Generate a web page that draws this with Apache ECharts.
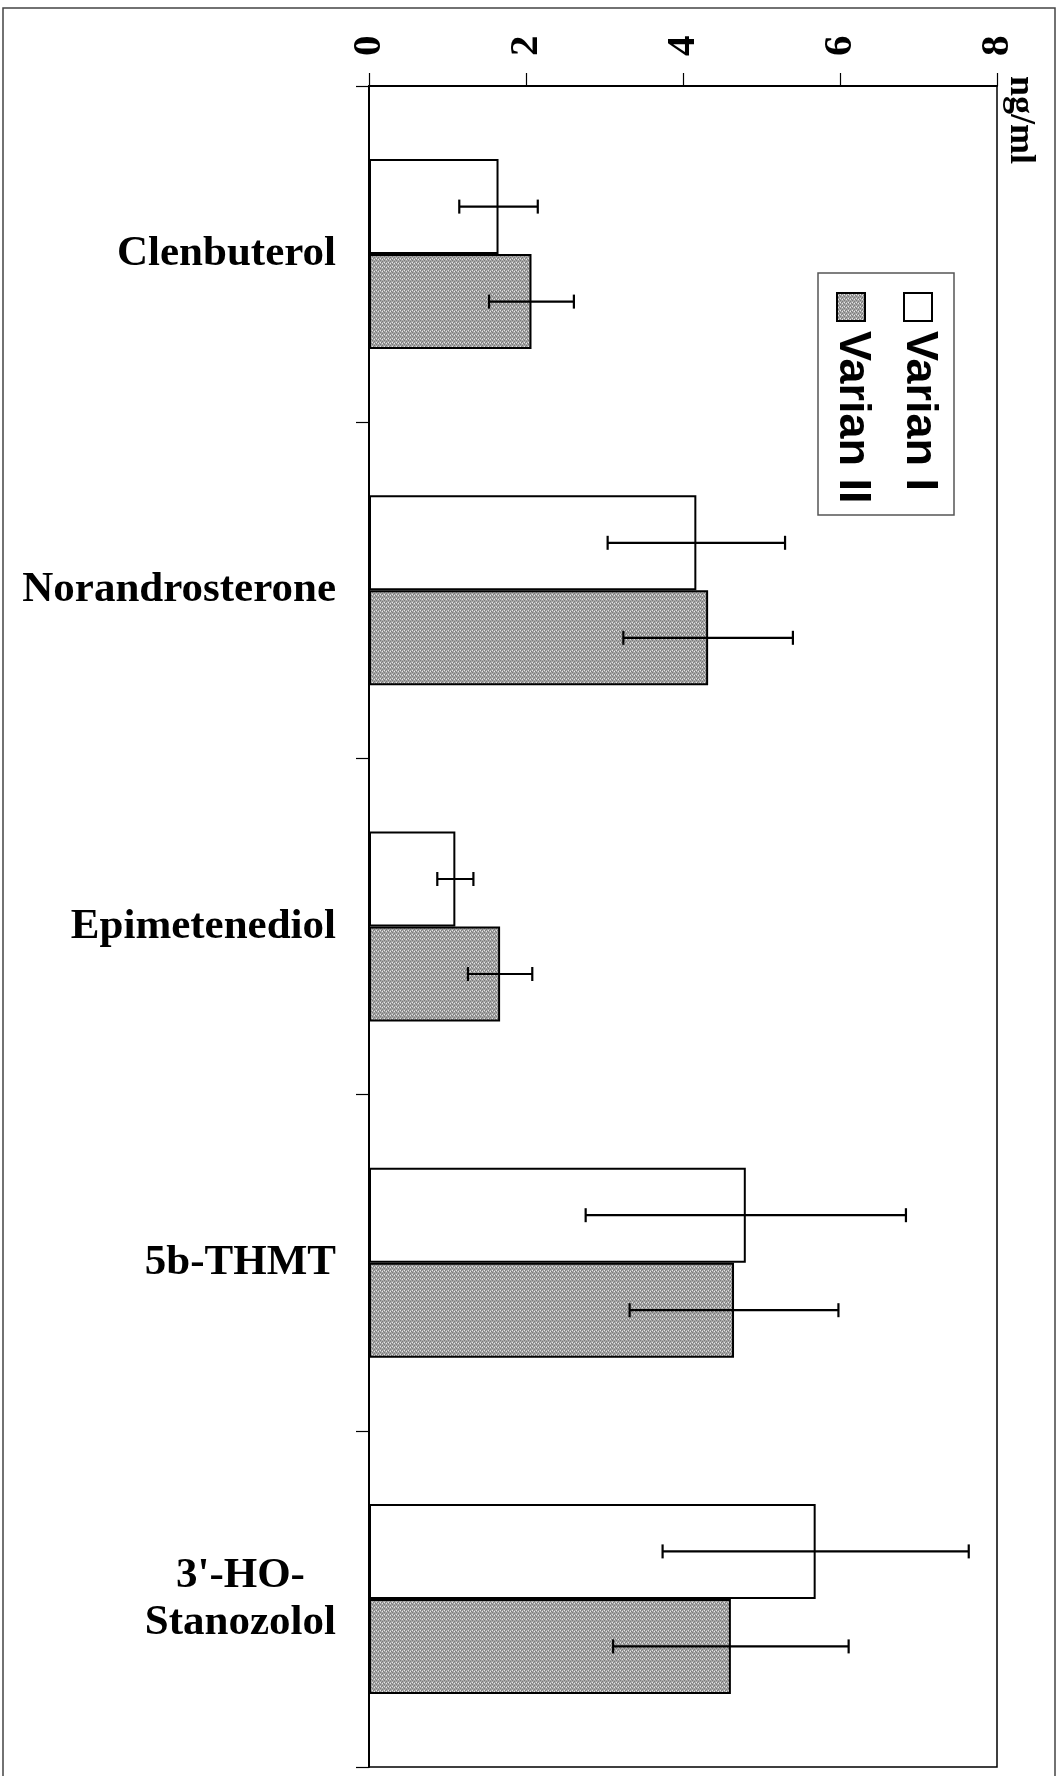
<!DOCTYPE html>
<html>
<head>
<meta charset="utf-8">
<script src="https://cdn.jsdelivr.net/npm/echarts@6/dist/echarts.min.js"></script>
<style>
html,body{margin:0;padding:0;background:#fff;}
#chart{width:1064px;height:1776px;}
</style>
</head>
<body>
<div id="chart"></div>
<script>
// ---- data ----
const categories = ['Clenbuterol', 'Norandrosterone', 'Epimetenediol', '5b-THMT', "3'-HO-\nStanozolol"];
const seriesNames = ['Varian I', 'Varian II'];
const varianI = [1.65, 4.17, 1.10, 4.80, 5.69];
const varianII = [2.07, 4.32, 1.67, 4.65, 4.61];
const errI = [0.50, 1.13, 0.23, 2.04, 1.95];
const errII = [0.54, 1.08, 0.41, 1.33, 1.50];
const valueTicks = [0, 2, 4, 6, 8];
const unitLabel = 'ng/ml';

// ---- styles ----
const SERIF = "'Liberation Serif','Times New Roman',serif";
const SANS = "'Liberation Sans',Arial,sans-serif";

const pat = document.createElement('canvas');
pat.width = 4; pat.height = 4;
(function () {
  const c = pat.getContext('2d');
  c.fillStyle = '#a6a6a6'; c.fillRect(0, 0, 4, 4);
  c.fillStyle = '#7a7a7a';
  [[0,0],[2,1],[1,2],[3,3]].forEach(p => c.fillRect(p[0], p[1], 1, 1));
  c.fillStyle = '#e6e6e6';
  [[2,3],[0,2]].forEach(p => c.fillRect(p[0], p[1], 1, 1));
})();
const patternFill = { image: pat, repeat: 'repeat' };

const BAR_W = 95;

function errData(means, errs) {
  return means.map((m, i) => [i, m - errs[i], m + errs[i]]);
}
function errRender(offset) {
  return function (params, api) {
    const idx = api.value(0);
    const p1 = api.coord([api.value(1), idx]);
    const p2 = api.coord([api.value(2), idx]);
    const y = p1[1] + offset;
    const h = 7;
    const st = { stroke: '#000', lineWidth: 2.2 };
    return {
      type: 'group',
      children: [
        { type: 'line', shape: { x1: p1[0], y1: y, x2: p2[0], y2: y }, style: st },
        { type: 'line', shape: { x1: p1[0], y1: y - h, x2: p1[0], y2: y + h }, style: st },
        { type: 'line', shape: { x1: p2[0], y1: y - h, x2: p2[0], y2: y + h }, style: st }
      ]
    };
  };
}

const chart = echarts.init(document.getElementById('chart'), null, { renderer: 'canvas' });
chart.setOption({
  backgroundColor: '#fff',
  animation: false,
  grid: { left: 369, top: 86, right: 67, bottom: 9, show: true, borderColor: '#000', borderWidth: 1.5, backgroundColor: 'transparent' },
  xAxis: {
    type: 'value', position: 'top', min: valueTicks[0], max: valueTicks[valueTicks.length - 1], interval: 2,
    axisLine: { show: true, lineStyle: { color: '#000', width: 2 } },
    axisTick: { show: true, length: 13, lineStyle: { color: '#000', width: 1.2 } },
    splitLine: { show: false },
    axisLabel: { rotate: -90, margin: 30, fontSize: 41, fontWeight: 'bold', fontFamily: SERIF, color: '#000' }
  },
  yAxis: {
    type: 'category', data: categories, inverse: true,
    axisLine: { show: true, lineStyle: { color: '#000', width: 2 } },
    axisTick: { show: true, length: 13, lineStyle: { color: '#000', width: 1.2 } },
    axisLabel: {
      margin: 33, color: '#000',
      formatter: v => v.split('\n').map(s => '{c|' + s + '}').join('\n'),
      rich: { c: { fontSize: 43, fontWeight: 'bold', fontFamily: SERIF, color: '#000', align: 'center', lineHeight: 47 } }
    }
  },
  series: [
    { name: seriesNames[0], type: 'bar', data: varianI, barWidth: BAR_W, barGap: '0%',
      itemStyle: { color: '#fff', borderColor: '#000', borderWidth: 2 } },
    { name: seriesNames[1], type: 'bar', data: varianII, barWidth: BAR_W, barGap: '0%',
      itemStyle: { color: patternFill, borderColor: '#000', borderWidth: 2 } },
    { type: 'custom', data: errData(varianI, errI), renderItem: errRender(-BAR_W / 2), z: 10, encode: { x: [1, 2], y: 0 } },
    { type: 'custom', data: errData(varianII, errII), renderItem: errRender(BAR_W / 2), z: 10, encode: { x: [1, 2], y: 0 } }
  ],
  graphic: [
    { type: 'rect', shape: { x: 3, y: 8, width: 1052, height: 1800 }, style: { fill: 'none', stroke: '#444', lineWidth: 1.5 }, silent: true },
    { type: 'text', x: 1020, y: 76, rotation: -Math.PI / 2,
      style: { text: unitLabel, font: 'bold 36px ' + SERIF, fill: '#000', textAlign: 'left', textVerticalAlign: 'middle' } },
    { type: 'rect', shape: { x: 818, y: 273, width: 136, height: 242 }, style: { fill: '#fff', stroke: '#555', lineWidth: 1.5 } },
    { type: 'rect', shape: { x: 904, y: 293, width: 28, height: 28 }, style: { fill: '#fff', stroke: '#000', lineWidth: 2 } },
    { type: 'rect', shape: { x: 837, y: 293, width: 28, height: 28 }, style: { fill: patternFill, stroke: '#000', lineWidth: 2 } },
    { type: 'text', x: 919, y: 331, rotation: -Math.PI / 2,
      style: { text: seriesNames[0], font: 'bold 45px ' + SANS, fill: '#000', textAlign: 'left', textVerticalAlign: 'middle' } },
    { type: 'text', x: 852, y: 331, rotation: -Math.PI / 2,
      style: { text: seriesNames[1], font: 'bold 45px ' + SANS, fill: '#000', textAlign: 'left', textVerticalAlign: 'middle' } }
  ]
});
</script>
</body>
</html>
